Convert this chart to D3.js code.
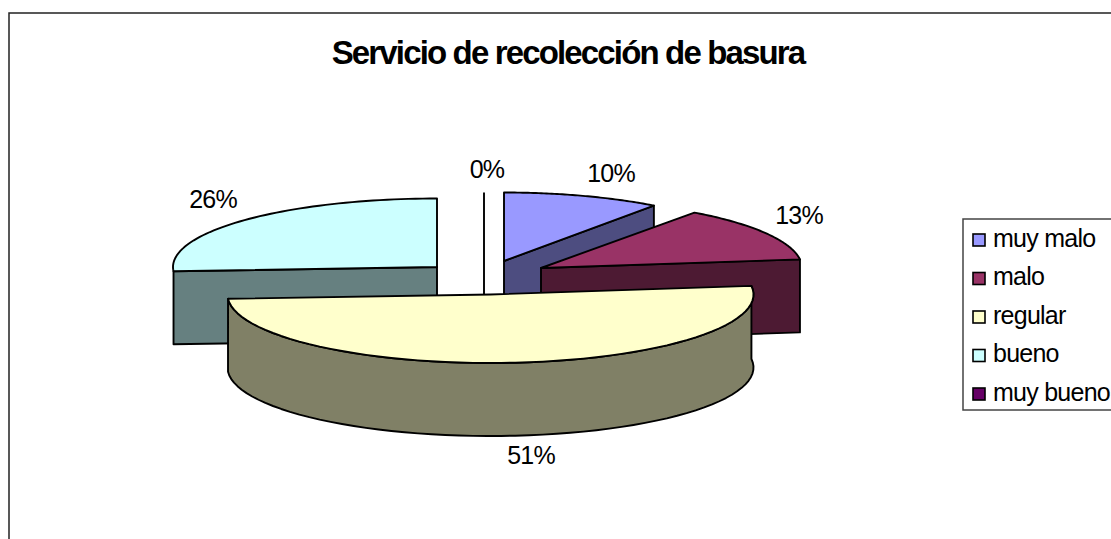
<!DOCTYPE html>
<html><head><meta charset="utf-8">
<script src="https://cdn.jsdelivr.net/npm/d3@7"></script>
<style>html,body{margin:0;padding:0;background:#fff;overflow:hidden}svg{display:block}text{font-family:"Liberation Sans",Arial,sans-serif;fill:#000}</style>
</head><body>
<svg id="c" width="1111" height="539"></svg>
<script>
const title = "Servicio de recolección de basura";
const categories = ["muy malo","malo","regular","bueno","muy bueno"];
const values = [10,13,51,26,0];
const topColors = ["#9999FF","#993366","#FFFFCC","#CCFFFF","#660066"];
const wallColors = ["#4D4D80","#4D1A33","#808066","#668080","#330033"];

// layout of the exploded slices (not data)
const apexes = [[504,261],[541,268],[490.5,294.5],[437,267],[484,261]];
const radii = [255,261,263,264,262];
const labelPos = [[611,182],[799,224],[531,464],[213,208],[487,178]];
const ry = 68.5, depth = 73;

const svg = d3.select("#c");
svg.append("rect").attr("x",9).attr("y",13).attr("width",1200).attr("height",600)
  .attr("fill","#fff").attr("stroke","#222").attr("stroke-width",1.5);

svg.append("text").attr("x",568).attr("y",63.5).attr("text-anchor","middle")
  .attr("font-size",33).attr("font-weight","bold").attr("letter-spacing",-1.85).text(title);

const pie = d3.pie().sort(null).value(d=>d).startAngle(0).endAngle(2*Math.PI);
const arcs = pie(values);
const line = d3.line().x(d=>d[0]).y(d=>d[1]);
const pt = (i,a,dz=0)=>[apexes[i][0]+radii[i]*Math.sin(a), apexes[i][1]-ry*Math.cos(a)+dz];
const samples = (a0,a1)=>d3.range(0,61).map(k=>a0+(a1-a0)*k/60);

function slice(i){
  const d = arcs[i], a0=d.startAngle, a1=d.endAngle, ax=apexes[i];
  const g = svg.append("g").attr("stroke","#000").attr("stroke-width",1.9).attr("stroke-linejoin","round");
  const wall = pts=>g.append("path").attr("d",line(pts)+"Z").attr("fill",wallColors[i]);
  if(i===0 || i===1){
    wall([ax,pt(i,a1),pt(i,a1,depth),[ax[0],ax[1]+depth]]);
  } else if(i===3){
    wall([ax,pt(i,a0),pt(i,a0,depth),[ax[0],ax[1]+depth]]);
  } else if(i===2){
    const arc = samples(a0,a1);
    wall(arc.map(a=>pt(i,a)).concat(arc.map(a=>pt(i,a,depth)).reverse()));
  }
  if(i===4){
    g.append("path").attr("d",line([pt(i,a0),ax,[ax[0],ax[1]+depth]])).attr("fill","none");
    return;
  }
  g.append("path").attr("d",line([ax].concat(samples(a0,a1).map(a=>pt(i,a))))+"Z").attr("fill",topColors[i]);
}
[4,0,3,1,2].forEach(slice);

svg.append("g").selectAll("text").data(values).join("text")
  .attr("x",(d,i)=>labelPos[i][0]).attr("y",(d,i)=>labelPos[i][1])
  .attr("text-anchor","middle").attr("font-size",25).attr("letter-spacing",-0.8)
  .text(d=>d+"%");

// legend
svg.append("rect").attr("x",963).attr("y",219).attr("width",300).attr("height",191)
  .attr("fill","#fff").attr("stroke","#444").attr("stroke-width",1.5);
const ly = d3.scalePoint().domain(categories).range([240,394]);
const lg = svg.append("g").selectAll("g").data(categories).join("g")
  .attr("transform",d=>`translate(0,${ly(d)})`);
lg.append("rect").attr("x",973).attr("y",-6).attr("width",12).attr("height",12)
  .attr("fill",(d,i)=>topColors[i]).attr("stroke","#000").attr("stroke-width",1.6);
lg.append("text").attr("x",993).attr("y",6.5).attr("font-size",25).attr("letter-spacing",-0.75).text(d=>d);
</script>
</body></html>
